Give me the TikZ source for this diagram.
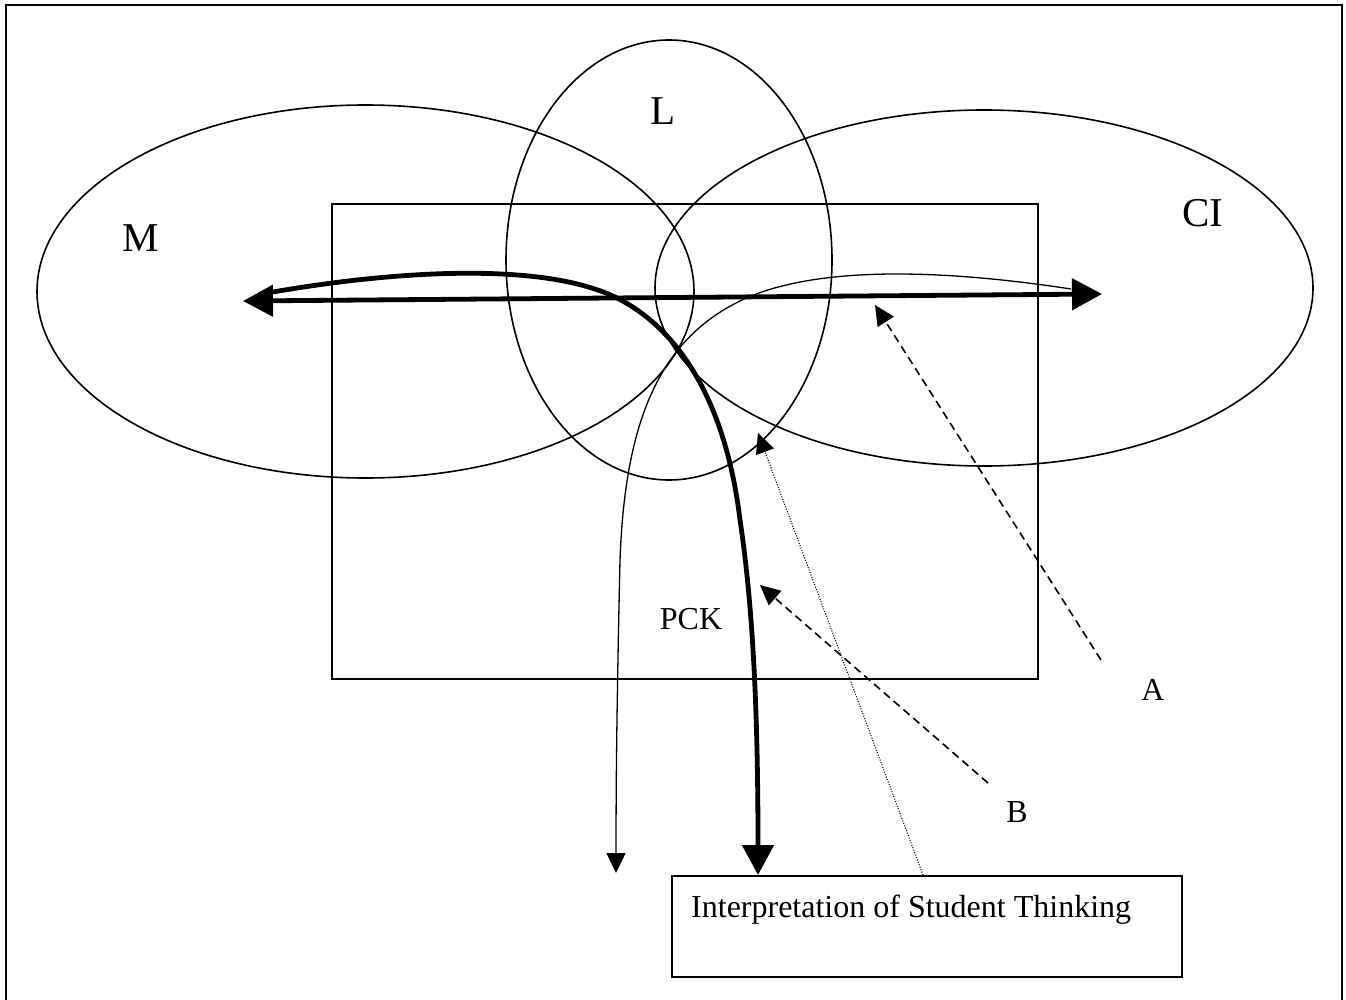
\documentclass[tikz,border=0pt]{standalone}
\usepackage{fontspec}
\setmainfont{Liberation Serif}
\usetikzlibrary{arrows.meta,shapes.geometric}
\tikzset{
  bigtip/.tip={Triangle[length=30pt,width=31pt]},
  smalltip/.tip={Triangle[length=20pt,width=19pt]}
}
\begin{document}
\begin{tikzpicture}[x=1pt,y=-1pt,
  ring/.style={draw, ellipse, line width=1.6pt, inner sep=0pt},
  plainbox/.style={draw, rectangle, line width=1.6pt, inner sep=0pt},
  biglabel/.style={font=\fontsize{41}{41}\selectfont, inner sep=0pt},
  smalllabel/.style={font=\fontsize{32}{32}\selectfont, inner sep=0pt},
  heavy/.style={line width=4.8pt},
  thinline/.style={line width=1.3pt},
  dashline/.style={line width=1.6pt, dash pattern=on 8pt off 5pt},
  dotline/.style={line width=1.1pt, dash pattern=on 1pt off 1.6pt}
]
\useasboundingbox (0,0) rectangle (1346,1000);
\clip (0,0) rectangle (1346,1000);
% outer frame
\draw[line width=2pt] (5.5,5.5) rectangle (1341.5,1012);

% knowledge domains
\node[ring, minimum width=657pt, minimum height=373pt] (Mell) at (365.5,291.5) {};
\node[ring, minimum width=326pt, minimum height=440pt] (Lell) at (669,260) {};
\node[ring, minimum width=658pt, minimum height=356pt] (CIell) at (984,288) {};
\node[plainbox, minimum width=706pt, minimum height=475pt, anchor=north west] (PCKbox) at (331,203) {};
\node[plainbox, minimum width=510pt, minimum height=101pt, anchor=north west] (ISTbox) at (671,875) {};

% labels
\node[biglabel, anchor=base] (Mlab) at (141,252) {M};
\node[biglabel, anchor=base] (Llab) at (663,125) {L};
\node[biglabel, anchor=base] (CIlab) at (1203,227) {CI};
\node[smalllabel, anchor=base] (PCKlab) at (691,629) {PCK};
\node[smalllabel, anchor=base] (Alab) at (1153,700) {A};
\node[smalllabel, anchor=base] (Blab) at (1017,822) {B};
\node[smalllabel, anchor=base west] (ISTlab) at (691,917) {Interpretation of Student Thinking};

% connector end points
\coordinate (lefttip) at (243,301);
\coordinate (righttip) at (1102,294);
\coordinate (leftback) at (273,292);
\coordinate (rightback) at (1071,289);
\coordinate (heavyend) at (758,875);
\coordinate (thinend) at (616,873);
\coordinate (Astart) at (1101,660);
\coordinate (Atip) at (875,305);
\coordinate (Bstart) at (988,783);
\coordinate (Btip) at (760,585);
\coordinate (dotstart) at (923,875);
\coordinate (dottip) at (758,433);

% heavy double arrow M <-> CI
\draw[heavy, bigtip-bigtip] (lefttip) -- (righttip);

% heavy curve from M through L to interpretation
\draw[heavy, -bigtip] (leftback)
  .. controls (400,270) and (545,262) .. (617,298)
  .. controls (690,335) and (728,420) .. (740,520)
  .. controls (752,600) and (758,700) .. (heavyend);

% thin curve from CI down out of the picture
\draw[thinline, -smalltip] (rightback)
  .. controls (960,272) and (820,262) .. (740,301)
  .. controls (660,340) and (625,420) .. (620,560)
  .. controls (618,650) and (616,750) .. (thinend);

% dashed arrows A and B
\draw[dashline, -smalltip] (Astart) -- (Atip);
\draw[dashline, -smalltip] (Bstart) -- (Btip);

% dotted arrow from interpretation box
\draw[dotline, -smalltip] (dotstart) -- (dottip);
\end{tikzpicture}
\end{document}
